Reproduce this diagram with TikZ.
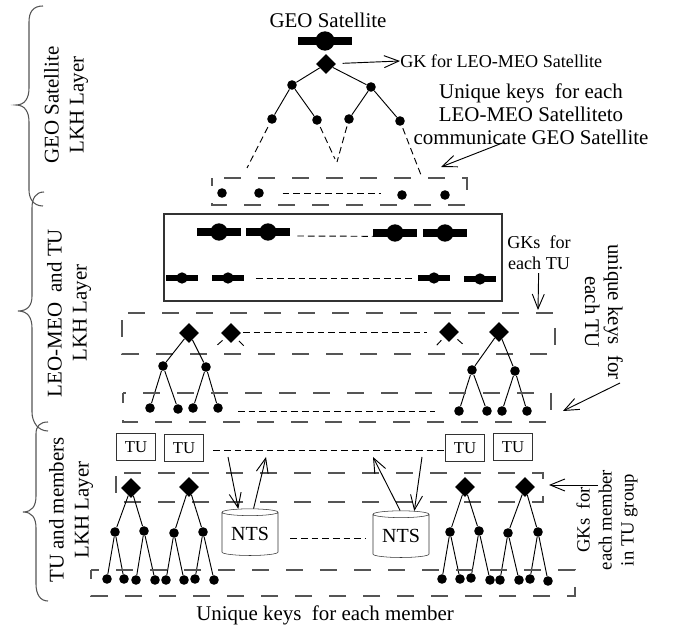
\documentclass[tikz,border=0pt]{standalone}
\usepackage{fontspec}
\setmainfont{Liberation Serif}
\usetikzlibrary{arrows.meta, shapes.geometric}
\definecolor{dashGray}{HTML}{555555}

\begin{document}
\begin{tikzpicture}[
    x=0.75pt, y=-0.75pt,
    dot/.style={circle, fill=black, minimum size=7.2pt, inner sep=0pt},
    gk/.style={diamond, fill=black, minimum size=15pt, inner sep=0pt},
    satbig/.style={rectangle, fill=black, minimum width=33pt, minimum height=6pt, inner sep=0pt,
                label={[circle, fill=black, minimum size=13pt, inner sep=0pt]center:}},
    satsmall/.style={rectangle, fill=black, minimum width=23.5pt, minimum height=4pt, inner sep=0pt,
                label={[circle, fill=black, minimum size=8.5pt, inner sep=0pt]center:}},
    tubox/.style={rectangle, draw=black!80, minimum width=29.5pt, minimum height=20pt, inner sep=0pt,
                font=\fontsize{12.5}{15}\selectfont},
    nts/.style={cylinder, shape border rotate=90, shape aspect=0.18, draw=black!80, fill=white,
                minimum width=42pt, minimum height=35pt, inner sep=0pt,
                font=\fontsize{15}{17}\selectfont},
    txt/.style={font=\fontsize{15.7}{17.25}\selectfont, align=center, inner sep=0pt},
    txtsm/.style={font=\fontsize{13.6}{16}\selectfont, align=center, inner sep=0pt},
    side/.style={font=\fontsize{15.7}{18.75}\selectfont, align=center, inner sep=0pt, rotate=90},
    link/.style={line width=0.7pt},
    gap/.style={dash pattern=on 5pt off 3pt, line width=0.7pt},
    keybox/.style={dash pattern=on 12.75pt off 12.75pt, line width=0.8pt, dashGray},
    arr/.style={-{Straight Barb[length=11pt, width=9pt]}, line width=0.7pt},
    brace/.style={line width=0.8pt, dashGray}
  ]
    \useasboundingbox (0,0) rectangle (679,630);

    % layer braces
    \draw[brace] (43,6) .. controls (33,6) and (29,12) .. (29,22) -- (29,88)
      .. controls (29,98) and (25,105) .. (16,105) .. controls (25,105) and (29,112) .. (29,122)
      -- (29,190) .. controls (29,198) and (33,206) .. (43,206);
    \draw[brace] (44,192) .. controls (36,192) and (32,198) .. (32,208) -- (32,296)
      .. controls (32,305) and (28,311) .. (18,311) .. controls (28,311) and (32,318) .. (32,328)
      -- (32,412) .. controls (32,422) and (38,431) .. (48,431);
    \draw[brace] (48,422) .. controls (40,422) and (36,426) .. (36,434) -- (36,496)
      .. controls (36,506) and (32,512) .. (23,512) .. controls (32,512) and (36,518) .. (36,528)
      -- (36,584) .. controls (36,594) and (40,601) .. (48,601);
    \node[side] (layergeo) at (66,105) {GEO Satellite\\LKH Layer};
    \node[side] (layerleo) at (69,313) {LEO-MEO\ \ and TU\\LKH Layer};
    \node[side] (layertu) at (71,510) {TU and members\\LKH Layer};

    % GEO layer
    \node[txt] (geotitle) at (328,20) {GEO Satellite};
    \node[satbig, minimum width=40pt, label={[circle, fill=black, minimum size=14.5pt, inner sep=0pt]center:}] (geo) at (325,41) {};
    \node[gk] (geogk) at (326,64) {};
    \node[dot] (ga) at (292,85) {};
    \node[dot] (gb) at (371,87) {};
    \node[dot] (gc) at (272,119) {};
    \node[dot] (gd) at (317,120) {};
    \node[dot] (ge) at (349,119) {};
    \node[dot] (gf) at (400,121) {};
    \draw[link] (geogk) -- (ga);
    \draw[link] (geogk) -- (gb);
    \draw[link] (ga) -- (gc);
    \draw[link] (ga) -- (gd);
    \draw[link] (gb) -- (ge);
    \draw[link] (gb) -- (gf);
    \coordinate (gcend) at (247,168);
    \coordinate (gdend) at (335,159);
    \coordinate (geend) at (337,162);
    \coordinate (gfend) at (421,175);
    \draw[gap, shorten <=3pt] (gc) -- (gcend);
    \draw[gap, shorten <=2pt] (gd) -- (gdend);
    \draw[gap, shorten <=2pt] (ge) -- (geend);
    \draw[gap, shorten <=2pt] (gf) -- (gfend);
    \node[txtsm, anchor=west] (gklabel) at (400,61) {GK for LEO-MEO Satellite};
    \draw[arr, shorten <=5pt] (geogk) -- (gklabel.west);
    \node[txt] (uniqgeo) at (531,114)
      {Unique keys\ \ for each\\LEO-MEO Satelliteto\\communicate GEO Satellite};
    \coordinate (uniqgeostart) at (505,142);
    \coordinate (uniqgeoend) at (441,167);
    \draw[arr] (uniqgeostart) -- (uniqgeoend);

    \draw[keybox, dash phase=16.5pt] (212,178) -- (467,178) -- (467,205) -- (212,205) -- cycle;
    \node[dot] (ua) at (222,193) {};
    \node[dot] (ub) at (259,193) {};
    \node[dot] (uc) at (402,195) {};
    \node[dot] (ud) at (445,195) {};
    \draw[gap, shorten <=14pt, shorten >=16pt] (ub) -- (ub -| uc);

    % LEO-MEO and TU layer
    \draw[line width=0.8pt, black!80] (164,214) rectangle (502,301);
    \node[satbig] (la) at (219,232) {};
    \node[satbig] (lb) at (268,232) {};
    \node[satbig] (lc) at (395,233) {};
    \node[satbig] (ld) at (445,233) {};
    \draw[gap] ([yshift=-3pt]lb.east) ++(7,0) -- ([yshift=-2.5pt]lc.west);
    \node[satsmall] (ma) at (182,278) {};
    \node[satsmall] (mb) at (228,278) {};
    \node[satsmall] (mc) at (434,278) {};
    \node[satsmall] (md) at (480,279) {};
    \draw[gap, shorten <=9pt, shorten >=4pt] (mb) -- (mc);
    \node[txtsm] (gktu) at (539,253) {GKs\ \ for\\each TU};
    \coordinate (gktuend) at (538,310);
    \draw[arr, shorten <=2pt] (gktu) -- (gktuend);
    \draw[keybox, dash phase=21pt] (122,313) -- (555,313) -- (555,354) -- (122,354) -- cycle;
    \node[gk] (ta) at (189,333) {};
    \node[gk] (tb) at (231,333) {};
    \node[gk] (tc) at (449,332) {};
    \node[gk] (td) at (499,332) {};
    \draw[gap, shorten <=9pt, shorten >=9pt] (tc -| tb) -- (tc);
    \coordinate (tbl) at (215,347);
    \coordinate (tbr) at (245,347);
    \coordinate (tcl) at (436,346);
    \coordinate (tcr) at (465,346);
    \draw[gap, shorten <=3pt] (tb) -- (tbl);
    \draw[gap, shorten <=3pt] (tb) -- (tbr);
    \draw[gap, shorten <=3pt] (tc) -- (tcl);
    \draw[gap, shorten <=3pt] (tc) -- (tcr);
    \node[dot] (taa) at (163,366) {};
    \node[dot] (tab) at (206,367) {};
    \node[dot] (tac) at (150,408) {};
    \node[dot] (tad) at (178,409) {};
    \node[dot] (tae) at (193,408) {};
    \node[dot] (taf) at (218,408) {};
    \draw[link] (ta) -- (taa);
    \draw[link] (ta) -- (tab);
    \draw[link] (taa) -- (tac);
    \draw[link] (taa) -- (tad);
    \draw[link] (tab) -- (tae);
    \draw[link] (tab) -- (taf);
    \node[dot] (tda) at (472,370) {};
    \node[dot] (tdb) at (515,371) {};
    \node[dot] (tdc) at (459,411) {};
    \node[dot] (tdd) at (487,411) {};
    \node[dot] (tde) at (502,411) {};
    \node[dot] (tdf) at (527,411) {};
    \draw[link] (td) -- (tda);
    \draw[link] (td) -- (tdb);
    \draw[link] (tda) -- (tdc);
    \draw[link] (tda) -- (tdd);
    \draw[link] (tdb) -- (tde);
    \draw[link] (tdb) -- (tdf);
    \draw[gap, shorten <=15pt, shorten >=14pt] (tdc -| taf) -- (tdc);
    \draw[keybox, dash phase=10.5pt] (123,393) -- (551,393) -- (551,422) -- (123,422) -- cycle;
    \node[txt, rotate=-90] (uniqtu) at (604,312) {unique keys\ \ for\\each TU};
    \coordinate (uniqtustart) at (620,383);
    \coordinate (uniqtuend) at (563,411);
    \draw[arr] (uniqtustart) -- (uniqtuend);

    % TU and members layer
    \node[tubox] (tua) at (136,447) {TU};
    \node[tubox] (tub) at (184,448) {TU};
    \node[tubox] (tuc) at (465,448) {TU};
    \node[tubox] (tud) at (513,447) {TU};
    \draw[gap, shorten <=7pt] ([yshift=-1.5pt]tub.east) -- ([yshift=-1.5pt]tuc.west);
    \draw[keybox, dash phase=19.5pt] (116,473) -- (543,473) -- (543,502) -- (116,502) -- cycle;
    \node[nts] (ntsa) at (250,534) {NTS};
    \node[nts] (ntsb) at (401,536) {NTS};
    \draw[gap, shorten <=9pt, shorten >=5pt] ([yshift=-2pt]ntsb.center -| ntsa.east) -- ([yshift=-2pt]ntsb.center -| ntsb.west);
    \coordinate (ntsain) at (228,457);
    \coordinate (ntsaout) at (266,457);
    \coordinate (ntsbin) at (422,457);
    \coordinate (ntsbout) at (373,457);
    \draw[arr] (ntsain) -- (ntsa.115);
    \draw[arr] (ntsa.82) -- (ntsaout);
    \draw[arr] (ntsbin) -- (ntsb.62);
    \draw[arr] (ntsb.92) -- (ntsbout);

    \node[gk] (ka) at (131,488) {};
    \node[gk] (kb) at (189,487) {};
    \node[gk] (kc) at (465,487) {};
    \node[gk] (kd) at (525,487) {};
    \node[dot] (kaa) at (115,532) {};
    \node[dot] (kab) at (144,531) {};
    \node[dot] (kba) at (174,533) {};
    \node[dot] (kbb) at (203,532) {};
    \node[dot] (kca) at (450,532) {};
    \node[dot] (kcb) at (479,531) {};
    \node[dot] (kda) at (508,533) {};
    \node[dot] (kdb) at (538,532) {};
    \draw[link] (ka) -- (kaa);
    \draw[link] (ka) -- (kab);
    \draw[link] (kb) -- (kba);
    \draw[link] (kb) -- (kbb);
    \draw[link] (kc) -- (kca);
    \draw[link] (kc) -- (kcb);
    \draw[link] (kd) -- (kda);
    \draw[link] (kd) -- (kdb);

    \node[dot] (m1) at (107,579) {};
    \node[dot] (m2) at (124,579) {};
    \node[dot] (m3) at (136,580) {};
    \node[dot] (m4) at (155,580) {};
    \node[dot] (m5) at (166,580) {};
    \node[dot] (m6) at (184,580) {};
    \node[dot] (m7) at (195,579) {};
    \node[dot] (m8) at (214,580) {};
    \node[dot] (m9) at (442,579) {};
    \node[dot] (m10) at (460,579) {};
    \node[dot] (m11) at (471,578) {};
    \node[dot] (m12) at (490,580) {};
    \node[dot] (m13) at (500,580) {};
    \node[dot] (m14) at (519,580) {};
    \node[dot] (m15) at (530,579) {};
    \node[dot] (m16) at (548,581) {};
    \draw[link] (kaa) -- (m1);
    \draw[link] (kaa) -- (m2);
    \draw[link] (kab) -- (m3);
    \draw[link] (kab) -- (m4);
    \draw[link] (kba) -- (m5);
    \draw[link] (kba) -- (m6);
    \draw[link] (kbb) -- (m7);
    \draw[link] (kbb) -- (m8);
    \draw[link] (kca) -- (m9);
    \draw[link] (kca) -- (m10);
    \draw[link] (kcb) -- (m11);
    \draw[link] (kcb) -- (m12);
    \draw[link] (kda) -- (m13);
    \draw[link] (kda) -- (m14);
    \draw[link] (kdb) -- (m15);
    \draw[link] (kdb) -- (m16);
    \draw[keybox, dash phase=6.75pt] (91,570) -- (575,570) -- (575,596) -- (91,596) -- cycle;

    \node[txtsm, rotate=90, font=\fontsize{14}{16.5}\selectfont] (gkmem) at (607,520)
      {GKs\ \ for\\each member\\in TU group};
    \coordinate (gkmemstart) at (598,485);
    \coordinate (gkmemend) at (549,485);
    \draw[arr] (gkmemstart) -- (gkmemend);
    \node[txt] (uniqmem) at (325,615) {Unique keys\ \ for each member};
  \end{tikzpicture}
\end{document}
